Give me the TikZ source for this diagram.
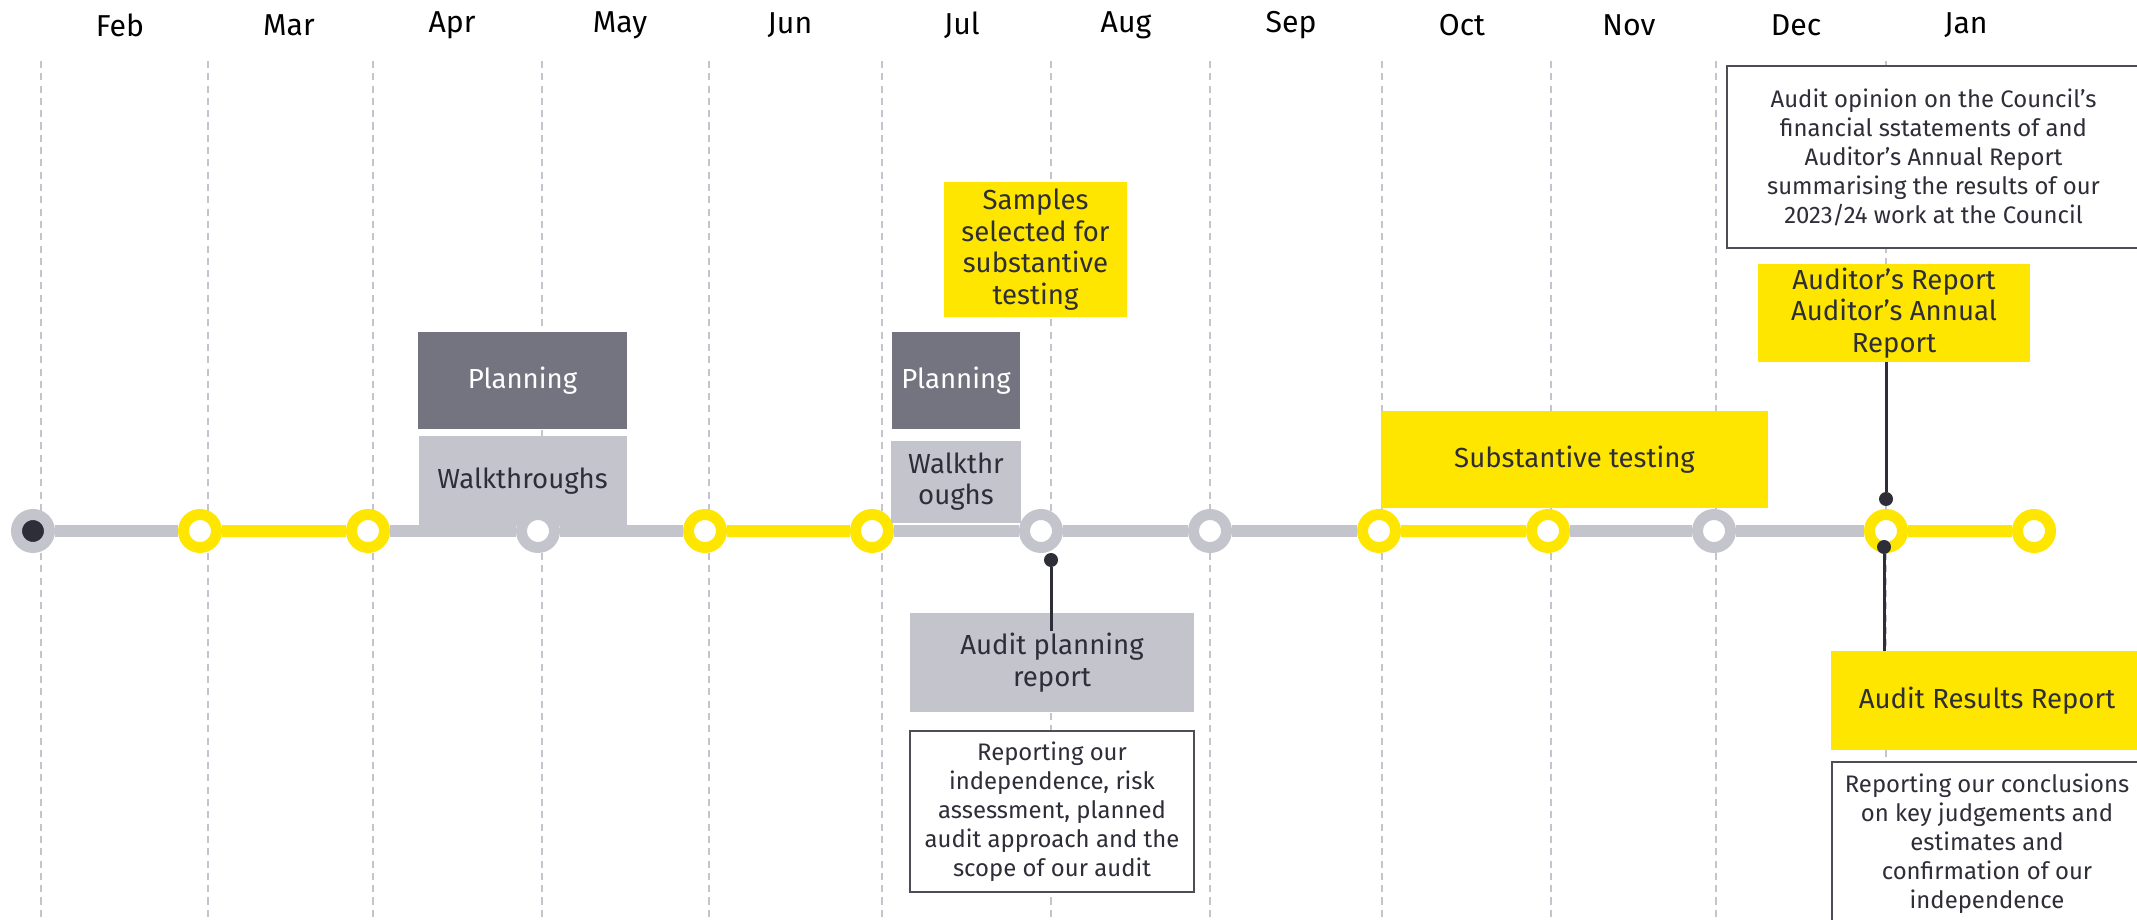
\documentclass[tikz,border=0pt]{standalone}
\usepackage{fontspec}
\setmainfont{Fira Sans}
\usepackage{tikz}
\usetikzlibrary{positioning}
\definecolor{eyyellow}{HTML}{FFE600}
\definecolor{eygrey}{HTML}{C4C4CD}
\definecolor{eymid}{HTML}{747480}
\definecolor{eydark}{HTML}{2E2E38}

\begin{document}
\begin{tikzpicture}[font=\fontsize{15.7}{18}\selectfont, text=eydark]
		\tikzset{
			monthlabel/.style={font=\fontsize{17.2}{20}\selectfont, text=black},
			monthline/.style={eygrey, line width=0.6pt, dash pattern=on 4pt off 3pt},
			ring/.style={circle, draw=#1, line width=0.22cm, fill=white, minimum size=0.66cm, inner sep=0pt},
			track/.style={line width=0.24cm, draw=#1},
			planbox/.style={fill=eymid, text=white, align=center, inner sep=0pt},
			walkbox/.style={fill=eygrey, align=center, inner sep=0pt},
			yellowbox/.style={fill=eyyellow, align=center, inner sep=0pt},
			descbox/.style={fill=white, draw=eydark!85, line width=0.04cm, align=center, inner sep=0pt, font=\fontsize{13.6}{16.5}\selectfont},
			stem/.style={line width=0.06cm, draw=eydark},
			knob/.style={circle, fill=eydark, minimum size=0.28cm, inner sep=0pt}
		}
		\useasboundingbox (0,0) rectangle (42.74,18.38);
		
		%months
		\node[monthlabel] (feb) at (2.40,17.88) {Feb};
		\node[monthlabel] (mar) at (5.78,17.88) {Mar};
		\node[monthlabel] (apr) at (9.04,17.88) {Apr};
		\node[monthlabel] (may) at (12.40,17.88) {May};
		\node[monthlabel] (jun) at (15.80,17.88) {Jun};
		\node[monthlabel] (jul) at (19.24,17.88) {Jul};
		\node[monthlabel] (aug) at (22.52,17.88) {Aug};
		\node[monthlabel] (sep) at (25.82,17.88) {Sep};
		\node[monthlabel] (oct) at (29.24,17.88) {Oct};
		\node[monthlabel] (nov) at (32.58,17.88) {Nov};
		\node[monthlabel] (dec) at (35.92,17.88) {Dec};
		\node[monthlabel] (jan) at (39.32,17.88) {Jan};
		
		\draw[monthline] (0.82,17.16) -- (0.82,0);
		\draw[monthline] (4.16,17.16) -- (4.16,0);
		\draw[monthline] (7.46,17.16) -- (7.46,0);
		\draw[monthline] (10.84,17.16) -- (10.84,0);
		\draw[monthline] (14.18,17.16) -- (14.18,0);
		\draw[monthline] (17.64,17.16) -- (17.64,0);
		\draw[monthline] (21.02,17.16) -- (21.02,0);
		\draw[monthline] (24.20,17.16) -- (24.20,0);
		\draw[monthline] (27.64,17.16) -- (27.64,0);
		\draw[monthline] (31.02,17.16) -- (31.02,0);
		\draw[monthline] (34.32,17.16) -- (34.32,0);
		\draw[monthline] (37.72,17.16) -- (37.72,0);
		
		%april boxes (under the may ring)
		\node[planbox, minimum width=4.18cm, minimum height=1.94cm] (aprplan) at (10.45,10.77) {Planning};
		\node[walkbox, minimum width=4.16cm, minimum height=1.80cm, below=0.12 of aprplan] (aprwalk) {Walkthroughs};
		
		%timeline
		\coordinate (start) at (0.22,7.76);
		\node[ring=eygrey, fill=eydark] (c0) at (0.66,7.76) {};
		\node[ring=eyyellow] (c1) at (4.00,7.76) {};
		\node[ring=eyyellow] (c2) at (7.36,7.76) {};
		\node[ring=eygrey] (c3) at (10.76,7.76) {};
		\node[ring=eyyellow] (c4) at (14.10,7.76) {};
		\node[ring=eyyellow] (c5) at (17.44,7.76) {};
		\node[ring=eygrey] (c6) at (20.82,7.76) {};
		\node[ring=eygrey] (c7) at (24.20,7.76) {};
		\node[ring=eyyellow] (c8) at (27.58,7.76) {};
		\node[ring=eyyellow] (c9) at (30.96,7.76) {};
		\node[ring=eygrey] (c10) at (34.28,7.76) {};
		\node[ring=eyyellow] (c11) at (37.72,7.76) {};
		\node[ring=eyyellow] (c12) at (40.68,7.76) {};
		
		\draw[track=eygrey] (start) -- (c0);
		\draw[track=eygrey] (c0) -- (c1);
		\draw[track=eyyellow] (c1) -- (c2);
		\draw[track=eygrey] (c2) -- (c3);
		\draw[track=eygrey] (c3) -- (c4);
		\draw[track=eyyellow] (c4) -- (c5);
		\draw[track=eygrey] (c5) -- (c6);
		\draw[track=eygrey] (c6) -- (c7);
		\draw[track=eygrey] (c7) -- (c8);
		\draw[track=eyyellow] (c8) -- (c9);
		\draw[track=eygrey] (c9) -- (c10);
		\draw[track=eygrey] (c10) -- (c11);
		\draw[track=eyyellow] (c11) -- (c12);
		
		%boxes
		\node[planbox, minimum width=2.56cm, minimum height=1.94cm] (julplan) at (19.12,10.77) {Planning};
		\node[walkbox, minimum width=2.60cm, minimum height=1.64cm, below=0.22 of julplan] (julwalk) {Walkthr\\oughs};
		\node[yellowbox, minimum width=3.66cm, minimum height=2.70cm] (samples) at (20.71,13.39) {Samples\\selected for\\substantive\\testing};
		
		\node[walkbox, minimum width=5.68cm, minimum height=1.98cm] (aprep) at (21.04,5.13) {Audit planning\\report};
		\node[descbox, minimum width=5.68cm, minimum height=3.22cm, below=0.36 of aprep] (indep) {Reporting our\\independence, risk\\assessment, planned\\audit approach and the\\scope of our audit};
		
		\node[yellowbox, minimum width=7.74cm, minimum height=1.94cm] (subst) at (31.49,9.19) {Substantive testing};
		
		\node[descbox, minimum width=8.26cm, minimum height=3.64cm] (opinion) at (38.67,15.24) {Audit opinion on the Council’s\\financial sstatements of and\\Auditor’s Annual Report\\summarising the results of our\\2023/24 work at the Council};
		\node[yellowbox, minimum width=5.44cm, minimum height=1.96cm] (audrep) at (37.88,12.12) {Auditor’s Report\\Auditor’s Annual\\Report};
		
		\node[yellowbox, minimum width=6.24cm, minimum height=1.98cm] (results) at (39.74,4.37) {Audit Results Report};
		\node[descbox, minimum width=6.22cm, minimum height=3.24cm, below=0.22 of results] (concl) {Reporting our conclusions\\on key judgements and\\estimates and\\confirmation of our\\independence};
		
		%stems
		\node[knob] (augdot) at (21.02,7.18) {};
		\coordinate (augend) at (21.02,5.76);
		\draw[stem] (augdot) -- (augend);
		
		\node[knob] (jantop) at (37.72,8.40) {};
		\draw[stem] (jantop) -- (jantop |- audrep.south);
		\node[knob] (janbot) at (37.68,7.44) {};
		\draw[stem] (janbot) -- (janbot |- results.north);
		
	\end{tikzpicture}
\end{document}
